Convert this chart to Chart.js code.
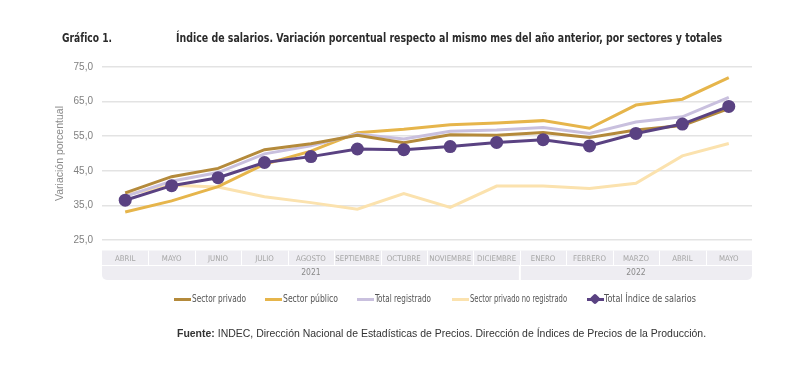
<!DOCTYPE html>
<html lang="es">
<head>
<meta charset="utf-8">
<script src="https://cdn.jsdelivr.net/npm/chart.js@4.4.0/dist/chart.umd.min.js"></script>
<style>
  html, body { margin: 0; padding: 0; background: #fff; }
  #wrap { position: relative; width: 800px; height: 378px; overflow: hidden; }
  #chart { position: absolute; left: 0; top: 0; }
  .txt { position: absolute; white-space: nowrap; transform-origin: 0 50%; }
  .title { font-family: 'DejaVu Sans Condensed', 'Liberation Sans Narrow', sans-serif; font-weight: bold; font-size: 12.5px; color: #2b2b2b; top: 30px; }
  .legend { position: absolute; top: 292px; left: 0; width: 800px; height: 14px; font-family: 'DejaVu Sans Condensed', 'Liberation Sans Narrow', sans-serif; font-size: 10px; color: #555; }
  .legend .sw { position: absolute; top: 6px; width: 17px; height: 3px; }
  .legend .lab { position: absolute; top: 0; line-height: 14px; white-space: nowrap; transform-origin: 0 50%; }
  .legend .dot { position: absolute; left: 4px; top: -3px; width: 8px; height: 8px; background: #5a4282; transform: rotate(45deg); border-radius: 2px; }
  .source { font-family: 'Liberation Sans', Arial, sans-serif; font-size: 10.3px; color: #333; top: 328px; left: 177px; }
</style>
</head>
<body>
<div id="wrap">
  <canvas id="chart" width="800" height="378"></canvas>
  <div class="txt title" style="left:62px;" data-w="50">Gráfico 1.</div>
  <div class="txt title" style="left:176px;" data-w="546">Índice de salarios. Variación porcentual respecto al mismo mes del año anterior, por sectores y totales</div>
  <div class="legend" id="legend"></div>
  <div class="txt source" data-w="529"><b>Fuente:</b> INDEC, Dirección Nacional de Estadísticas de Precios. Dirección de Índices de Precios de la Producción.</div>
</div>
<script>
const months = ['ABRIL', 'MAYO', 'JUNIO', 'JULIO', 'AGOSTO', 'SEPTIEMBRE', 'OCTUBRE', 'NOVIEMBRE', 'DICIEMBRE', 'ENERO', 'FEBRERO', 'MARZO', 'ABRIL', 'MAYO'];
const years = ['2021', '2022'];
const monthsPerYear = [9, 5];

const sectorPrivado = [38.6, 43.3, 45.7, 51.1, 52.8, 55.3, 53.1, 55.4, 55.3, 56.1, 54.6, 56.8, 58.1, 63.0];
const sectorPublico = [33.1, 36.3, 40.4, 46.9, 50.7, 56.0, 57.0, 58.3, 58.8, 59.5, 57.3, 64.0, 65.7, 71.9];
const totalRegistrado = [37.6, 42.0, 44.5, 49.9, 52.2, 55.6, 54.2, 56.4, 56.8, 57.5, 55.8, 59.1, 60.6, 66.2];
const privadoNoRegistrado = [38.0, 40.8, 40.3, 37.5, 35.8, 33.9, 38.4, 34.4, 40.6, 40.6, 39.9, 41.4, 49.3, 52.9];
const totalIndice = [36.5, 40.7, 43.0, 47.4, 49.1, 51.3, 51.1, 52.0, 53.2, 54.0, 52.2, 55.8, 58.5, 63.6];

const yTicks = [25, 35, 45, 55, 65, 75];

const seriesInfo = [
  { label: 'Sector privado', data: sectorPrivado, color: '#b48a3b', order: 1 },
  { label: 'Sector público', data: sectorPublico, color: '#e6b54b', order: 3 },
  { label: 'Total registrado', data: totalRegistrado, color: '#c9c0de', order: 2 },
  { label: 'Sector privado no registrado', data: privadoNoRegistrado, color: '#fbe2ae', order: 4 },
  { label: 'Total Índice de salarios', data: totalIndice, color: '#5a4282', order: 0 }
];

// band with month cells and year row under the plot
const axisBand = {
  id: 'axisBand',
  beforeDraw(chart) {
    const { ctx, chartArea } = chart;
    const x = chart.scales.x;
    const cell = (chartArea.right - chartArea.left) / months.length;
    const top = 250.5, mid = 265.5, bottom = 280;
    ctx.save();
    ctx.fillStyle = '#eeedf2';
    ctx.beginPath();
    ctx.roundRect(chartArea.left, top, chartArea.right - chartArea.left, bottom - top, [0, 0, 5, 5]);
    ctx.fill();
    ctx.strokeStyle = '#ffffff';
    ctx.lineWidth = 1;
    ctx.beginPath();
    ctx.moveTo(chartArea.left, mid);
    ctx.lineTo(chartArea.right, mid);
    for (let i = 1; i < months.length; i++) {
      const px = Math.round(x.getPixelForValue(i) - cell / 2) + 0.5;
      ctx.moveTo(px, top);
      ctx.lineTo(px, mid);
    }
    ctx.stroke();
    let start = 0;
    ctx.font = '8.5px "DejaVu Sans Condensed", sans-serif';
    ctx.fillStyle = '#8a8a8a';
    ctx.textAlign = 'center';
    ctx.textBaseline = 'middle';
    years.forEach((yr, k) => {
      const end = start + monthsPerYear[k];
      const x0 = x.getPixelForValue(start) - cell / 2;
      const x1 = x.getPixelForValue(end - 1) + cell / 2;
      if (k > 0) {
        ctx.lineWidth = 2;
        ctx.beginPath();
        ctx.moveTo(x0, mid);
        ctx.lineTo(x0, bottom);
        ctx.stroke();
      }
      ctx.fillText(yr, (x0 + x1) / 2, 273);
      start = end;
    });
    ctx.restore();
  }
};

const ctx = document.getElementById('chart');
new Chart(ctx, {
  type: 'line',
  data: {
    labels: months,
    datasets: seriesInfo.map(s => ({
      label: s.label,
      data: s.data,
      borderColor: s.color,
      backgroundColor: s.color,
      borderWidth: 3,
      tension: 0,
      order: s.order,
      pointRadius: s.order === 0 ? 6.5 : 0,
      pointHoverRadius: s.order === 0 ? 6.5 : 0,
      pointBackgroundColor: s.color,
      pointBorderWidth: 0
    }))
  },
  options: {
    responsive: false,
    animation: false,
    layout: { padding: { left: 42, right: 48, top: 67, bottom: 98 } },
    plugins: { legend: { display: false }, tooltip: { enabled: false } },
    scales: {
      x: {
        offset: true,
        grid: { display: false, drawTicks: false },
        border: { display: false },
        ticks: {
          color: '#a6a6a6',
          font: { family: '"DejaVu Sans Condensed", sans-serif', size: 7.8 },
          padding: 14,
          maxRotation: 0,
          autoSkip: false
        },
        afterFit: (scale) => { scale.height = 40; }
      },
      y: {
        min: 25,
        max: 75,
        afterBuildTicks: (scale) => { scale.ticks = yTicks.map(v => ({ value: v })); },
        grid: { color: '#e3e3e3', lineWidth: 1.5, drawTicks: false },
        border: { display: false },
        ticks: {
          color: '#808080',
          font: { family: '"Liberation Sans", Arial, sans-serif', size: 10 },
          padding: 9,
          callback: (v) => v.toFixed(1).replace('.', ',')
        },
        title: {
          display: true,
          text: 'Variación porcentual',
          color: '#8a8a8a',
          font: { family: '"Liberation Sans", Arial, sans-serif', size: 10.5 },
          padding: { top: 12, bottom: 0 }
        },
        afterFit: (scale) => { scale.width = 60; }
      }
    }
  },
  plugins: [axisBand]
});

// legend in the layout of the reference
const legendPos = [
  { sw: 174, lab: 192, w: 54 },
  { sw: 265, lab: 283, w: 55 },
  { sw: 357, lab: 375, w: 56 },
  { sw: 452, lab: 470, w: 97 },
  { sw: 587, lab: 604, w: 92 }
];
const legend = document.getElementById('legend');
seriesInfo.forEach((s, i) => {
  const sw = document.createElement('div');
  sw.className = 'sw';
  sw.style.left = legendPos[i].sw + 'px';
  sw.style.background = s.color;
  if (s.order === 0) {
    const d = document.createElement('div');
    d.className = 'dot';
    sw.appendChild(d);
  }
  legend.appendChild(sw);
  const lab = document.createElement('div');
  lab.className = 'lab';
  lab.style.left = legendPos[i].lab + 'px';
  lab.dataset.w = legendPos[i].w;
  lab.textContent = s.label;
  legend.appendChild(lab);
});

// squeeze texts to the widths of the reference
document.querySelectorAll('[data-w]').forEach(el => {
  const w = el.getBoundingClientRect().width;
  const target = parseFloat(el.dataset.w);
  if (w > 0) el.style.transform = 'scaleX(' + (target / w).toFixed(3) + ')';
});
</script>
</body>
</html>
